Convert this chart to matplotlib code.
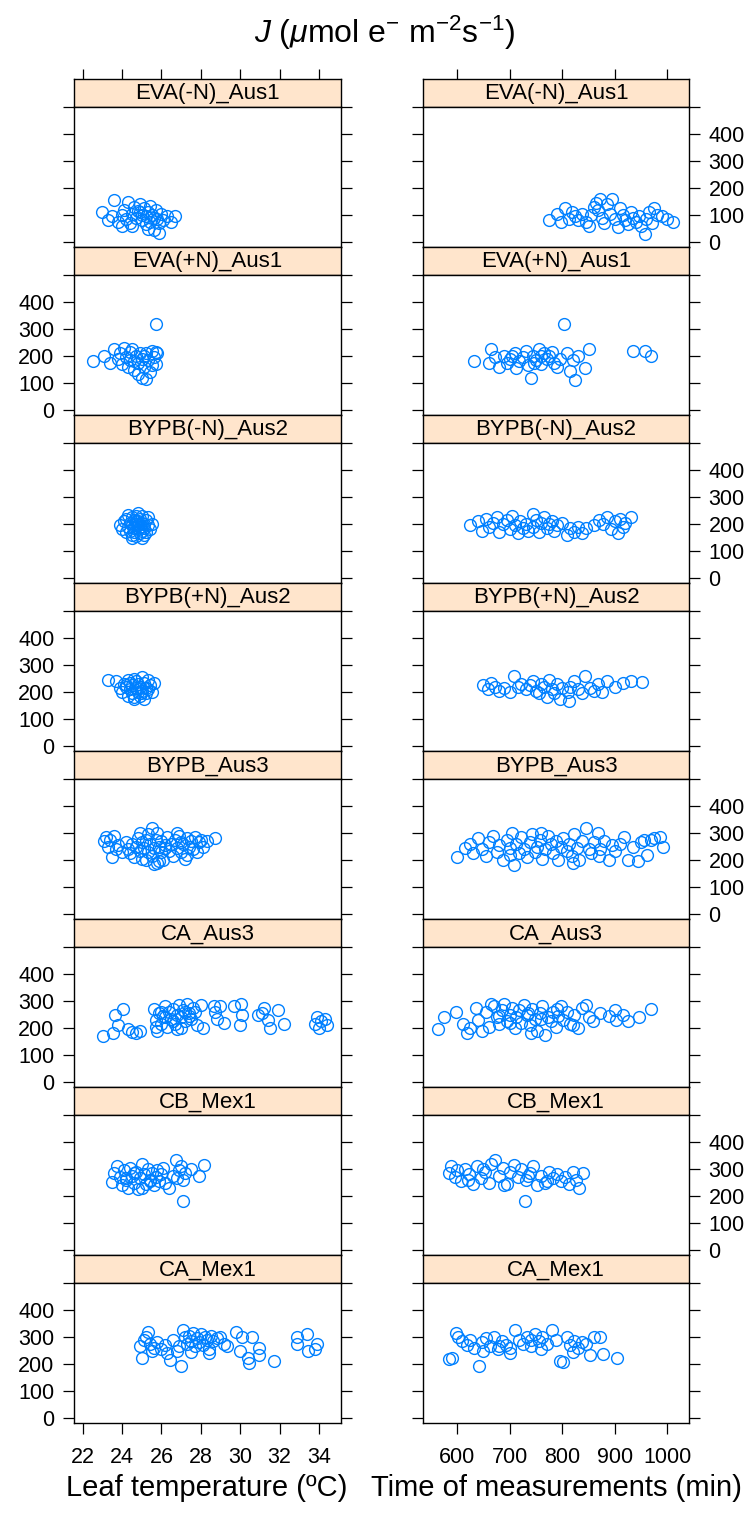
import matplotlib
matplotlib.use("Agg")
import matplotlib.pyplot as plt

plt.rcParams['font.family'] = ['Liberation Sans', 'DejaVu Sans']
plt.rcParams['mathtext.fontset'] = 'custom'
plt.rcParams['mathtext.rm'] = 'Liberation Sans'
plt.rcParams['mathtext.it'] = 'Liberation Sans:italic'

# panel names, top to bottom
groups = ['EVA(-N)_Aus1', 'EVA(+N)_Aus1', 'BYPB(-N)_Aus2', 'BYPB(+N)_Aus2',
          'BYPB_Aus3', 'CA_Aus3', 'CB_Mex1', 'CA_Mex1']

# leaf temperature (C) and J, left column
temp_0 = [23.0, 23.3, 23.5, 23.6, 23.8, 24.0, 24.1, 24.2, 24.3, 24.4, 24.5, 24.5, 24.6, 24.7, 24.8,
          24.9, 25.0, 25.0, 25.1, 25.2, 25.2, 25.3, 25.4, 25.4, 25.5, 25.6, 25.6, 25.7, 25.8, 25.9,
          26.0, 26.1, 25.9, 26.3, 26.5, 26.7, 24.0, 24.9, 25.3]
jt_0 = [110, 80, 95, 155, 75, 100, 120, 85, 150, 70, 105, 60, 130, 90, 115,
        140, 80, 100, 125, 65, 95, 110, 135, 75, 100, 45, 90, 120, 85, 70,
        105, 80, 35, 95, 75, 95, 60, 110, 50]
temp_1 = [22.5, 23.1, 23.4, 23.6, 23.8, 23.9, 24.0, 24.1, 24.2, 24.3, 24.4, 24.4, 24.5, 24.6, 24.7,
          24.8, 24.8, 24.9, 25.0, 25.0, 25.1, 25.2, 25.2, 25.3, 25.4, 25.5, 25.5, 25.6, 25.7, 25.7,
          25.8, 25.7, 24.6, 25.1]
jt_1 = [180, 200, 175, 225, 190, 210, 170, 230, 195, 160, 215, 185, 225, 150, 200,
        175, 135, 210, 120, 190, 160, 210, 115, 185, 140, 220, 165, 195, 170, 215,
        210, 318, 180, 200]
temp_2 = [23.9, 24.0, 24.1, 24.2, 24.2, 24.3, 24.3, 24.4, 24.4, 24.5, 24.5, 24.5, 24.6, 24.6, 24.6,
          24.7, 24.7, 24.7, 24.8, 24.8, 24.8, 24.9, 24.9, 24.9, 25.0, 25.0, 25.0, 25.1, 25.1, 25.1,
          25.2, 25.2, 25.3, 25.3, 25.4, 25.5, 24.5, 24.8, 25.0, 24.7]
jt_2 = [195, 180, 210, 170, 220, 190, 235, 175, 205, 160, 225, 195, 185, 215, 170,
        200, 230, 155, 180, 210, 195, 165, 220, 190, 205, 175, 230, 160, 200, 185,
        215, 170, 195, 225, 180, 200, 150, 240, 150, 210]
temp_3 = [23.3, 23.7, 23.9, 24.0, 24.1, 24.2, 24.3, 24.3, 24.4, 24.4, 24.5, 24.5, 24.6, 24.6, 24.7,
          24.7, 24.8, 24.8, 24.9, 24.9, 25.0, 25.0, 25.1, 25.1, 25.2, 25.2, 25.3, 25.3, 25.4, 25.5,
          25.6, 24.6, 24.95, 24.2]
jt_3 = [245, 240, 215, 200, 230, 220, 185, 245, 210, 235, 195, 225, 175, 250, 215,
        240, 200, 230, 185, 220, 255, 205, 175, 235, 215, 195, 245, 210, 225, 200,
        235, 180, 195, 225]
temp_4 = [23.1, 23.2, 23.3, 23.4, 23.5, 23.6, 23.7, 23.8, 24.0, 24.2, 24.3, 24.4, 24.5, 24.6, 24.7,
          24.8, 24.9, 25.0, 25.0, 25.1, 25.2, 25.3, 25.3, 25.4, 25.5, 25.5, 25.6, 25.7, 25.8, 25.8,
          25.9, 26.0, 26.0, 26.1, 26.2, 26.3, 26.4, 26.5, 26.6, 26.7, 26.8, 26.9, 27.0, 27.1, 27.2,
          27.3, 27.4, 27.5, 27.6, 27.7, 27.8, 27.9, 28.0, 28.1, 28.3, 28.7, 25.2, 25.6, 26.2, 26.8,
          27.3, 24.9, 25.9, 27.0]
jt_4 = [270, 285, 250, 275, 210, 290, 240, 255, 230, 265, 240, 225, 260, 210, 250,
        280, 235, 265, 205, 245, 275, 230, 295, 260, 320, 215, 245, 275, 190, 300,
        250, 230, 270, 200, 255, 285, 235, 260, 215, 275, 245, 290, 230, 260, 205,
        280, 250, 270, 240, 285, 230, 265, 275, 250, 270, 280, 200, 185, 245, 300,
        220, 300, 195, 265]
temp_5 = [23.05, 23.55, 23.65, 24.05, 23.8, 24.3, 24.5, 24.7, 24.9, 25.6, 25.7, 25.8, 25.9, 26.0, 26.1,
          26.2, 26.3, 26.4, 26.5, 26.6, 26.7, 26.8, 26.9, 27.0, 27.1, 27.2, 27.3, 27.4, 27.5, 27.6,
          27.7, 27.8, 28.0, 25.7, 26.2, 26.6, 27.0, 27.4, 26.0, 28.1, 28.65, 29.0, 28.7, 28.8, 29.2,
          29.7, 30.05, 30.1, 30.0, 30.9, 31.2, 31.4, 31.5, 31.1, 31.9, 32.2, 33.9, 34.1, 34.3, 34.4,
          34.0, 33.8, 26.8, 27.2]
jt_5 = [170, 181, 248, 270, 211, 195, 185, 180, 190, 270, 230, 190, 255, 215, 245,
        280, 205, 260, 235, 270, 215, 250, 285, 240, 265, 225, 290, 255, 235, 275,
        260, 210, 285, 205, 240, 225, 200, 245, 260, 200, 280, 280, 260, 235, 220,
        280, 290, 250, 210, 250, 275, 230, 200, 255, 266, 213, 240, 225, 235, 210,
        200, 215, 195, 260]
temp_6 = [23.5, 23.6, 23.75, 23.9, 24.0, 24.1, 24.2, 24.3, 24.4, 24.5, 24.6, 24.7, 24.8, 24.9, 25.0,
          25.1, 25.2, 25.3, 25.4, 25.5, 25.6, 25.7, 25.8, 25.9, 26.0, 26.2, 26.4, 26.6, 26.75, 26.9,
          27.0, 27.1, 27.2, 27.5, 27.9, 28.15, 24.2, 24.6, 25.0, 25.4, 26.1, 26.8, 27.1]
jt_6 = [252, 285, 311, 270, 240, 295, 260, 230, 305, 275, 250, 290, 225, 265, 320,
        280, 245, 300, 260, 285, 240, 270, 295, 255, 280, 250, 230, 275, 333, 295,
        310, 260, 285, 300, 275, 315, 265, 285, 230, 255, 305, 265, 181]
temp_7 = [25.0, 25.3, 24.9, 25.1, 25.4, 25.6, 25.2, 25.8, 26.0, 26.2, 26.45, 26.6, 26.8, 27.0, 27.1,
          27.2, 27.3, 27.4, 27.5, 27.6, 27.7, 27.8, 27.9, 28.0, 28.1, 28.2, 28.3, 28.4, 28.5, 28.6,
          28.8, 29.0, 29.2, 29.35, 29.8, 30.1, 30.6, 30.0, 30.4, 30.45, 30.95, 30.95, 31.7, 32.9, 32.9,
          33.4, 33.45, 33.9, 33.8, 26.3, 26.9, 27.5, 28.4, 25.5]
jt_7 = [222, 319, 265, 290, 275, 260, 300, 280, 255, 270, 215, 290, 250, 193, 326,
        300, 275, 305, 285, 315, 265, 295, 280, 310, 270, 300, 290, 255, 305, 285,
        295, 300, 275, 265, 320, 300, 300, 250, 222, 205, 259, 235, 210, 300, 273,
        310, 250, 275, 255, 240, 265, 245, 240, 250]

# time of measurement (min) and J, right column
time_0 = [775, 790, 798, 805, 812, 818, 825, 830, 838, 845, 850, 855, 860, 865, 868,
          872, 876, 880, 885, 890, 895, 900, 905, 910, 915, 920, 925, 930, 935, 940,
          945, 950, 957, 960, 965, 970, 975, 980, 990, 1000, 1010]
jm_0 = [80, 105, 75, 125, 85, 110, 95, 80, 105, 75, 60, 100, 130, 145, 120,
        160, 90, 70, 140, 105, 160, 85, 55, 125, 100, 80, 65, 110, 90, 75,
        95, 60, 30, 85, 110, 70, 125, 100, 95, 85, 75]
time_1 = [632, 660, 665, 672, 680, 690, 695, 700, 705, 710, 712, 718, 725, 730, 735,
          740, 745, 747, 750, 755, 760, 760, 765, 770, 775, 780, 785, 790, 795, 803,
          808, 815, 820, 825, 830, 843, 850, 935, 957, 969]
jm_1 = [180, 175, 225, 195, 160, 200, 175, 190, 200, 210, 155, 180, 195, 220, 165,
        120, 200, 175, 185, 225, 170, 200, 210, 190, 200, 215, 175, 160, 190, 318,
        210, 145, 185, 112, 200, 155, 225, 218, 220, 200]
time_2 = [625, 640, 648, 655, 660, 668, 675, 680, 688, 695, 700, 705, 710, 715, 720,
          725, 730, 735, 744, 745, 750, 755, 760, 765, 770, 775, 780, 785, 790, 800,
          808, 815, 822, 830, 838, 845, 860, 870, 878, 885, 893, 900, 905, 910, 915,
          920, 930]
jm_2 = [195, 210, 175, 220, 190, 205, 225, 170, 200, 215, 180, 230, 195, 165, 210,
        185, 200, 175, 237, 190, 215, 170, 205, 225, 185, 200, 210, 175, 195, 205,
        160, 185, 170, 190, 165, 185, 195, 215, 200, 225, 180, 210, 165, 220, 190,
        205, 225]
time_3 = [650, 658, 665, 672, 680, 690, 700, 708, 715, 722, 730, 738, 745, 750, 755,
          760, 765, 770, 775, 780, 785, 790, 795, 800, 812, 810, 815, 822, 830, 838,
          843, 852, 860, 868, 875, 885, 900, 915, 930, 952]
jm_3 = [225, 210, 235, 220, 205, 215, 200, 260, 220, 230, 210, 225, 240, 205, 195,
        230, 220, 180, 245, 210, 195, 230, 175, 215, 168, 200, 220, 240, 210, 195,
        260, 215, 205, 230, 200, 240, 220, 235, 240, 237]
time_4 = [600, 615, 625, 630, 640, 648, 655, 660, 668, 675, 680, 688, 695, 700, 705,
          708, 712, 718, 722, 728, 732, 738, 742, 748, 752, 758, 762, 768, 772, 778,
          782, 788, 792, 798, 802, 808, 812, 818, 822, 828, 832, 838, 845, 850, 855,
          860, 868, 872, 880, 888, 895, 900, 910, 918, 925, 935, 944, 950, 955, 961,
          968, 975, 985, 992, 700, 760, 820, 870]
jm_4 = [210, 245, 260, 225, 280, 240, 215, 265, 290, 230, 255, 200, 275, 245, 300,
        180, 260, 225, 285, 240, 210, 265, 295, 230, 250, 275, 205, 240, 290, 260,
        225, 270, 200, 250, 280, 235, 260, 215, 295, 245, 200, 270, 318, 240, 225,
        265, 300, 240, 270, 200, 255, 235, 260, 285, 200, 250, 195, 265, 275, 220,
        275, 280, 285, 250, 220, 300, 190, 215]
time_5 = [563, 575, 597, 611, 618, 624, 647, 636, 665, 640, 655, 660, 670, 675, 680,
          685, 690, 695, 700, 705, 710, 712, 718, 722, 728, 732, 738, 742, 748, 752,
          758, 762, 768, 772, 778, 782, 788, 792, 798, 802, 808, 815, 822, 830, 838,
          845, 850, 858, 872, 888, 900, 903, 915, 925, 945, 968, 700, 740, 760, 790,
          820, 680, 735]
jm_5 = [196, 241, 259, 215, 180, 200, 190, 275, 290, 230, 260, 205, 280, 240, 215,
        265, 290, 225, 250, 275, 200, 240, 265, 220, 285, 250, 210, 270, 235, 190,
        255, 280, 175, 240, 225, 260, 205, 245, 280, 230, 260, 215, 250, 200, 275,
        285, 240, 225, 255, 245, 265, 231, 250, 225, 240, 270, 220, 180, 235, 270,
        210, 245, 255]
time_6 = [584, 588, 595, 600, 608, 615, 622, 630, 638, 645, 652, 660, 665, 672, 680,
          688, 695, 700, 708, 715, 722, 730, 738, 745, 752, 760, 768, 775, 782, 790,
          798, 805, 812, 820, 826, 832, 840, 620, 650, 690, 735, 770, 729]
jm_6 = [285, 311, 270, 295, 255, 300, 280, 245, 310, 265, 290, 250, 320, 333, 275,
        305, 245, 290, 315, 270, 300, 260, 285, 310, 240, 275, 250, 290, 265, 280,
        255, 270, 245, 290, 260, 230, 285, 260, 300, 240, 275, 255, 181]
time_7 = [585, 590, 597, 601, 610, 618, 625, 632, 641, 648, 655, 662, 670, 678, 685,
          692, 700, 710, 718, 725, 732, 740, 748, 755, 762, 770, 780, 788, 795, 801,
          808, 815, 822, 830, 838, 845, 853, 860, 872, 878, 904, 650, 700, 760, 820,
          680, 740]
jm_7 = [218, 222, 315, 300, 285, 270, 290, 260, 193, 280, 295, 265, 300, 255, 285,
        270, 260, 326, 290, 275, 300, 265, 310, 285, 300, 275, 326, 290, 212, 208,
        300, 270, 285, 260, 280, 275, 235, 300, 300, 238, 222, 250, 240, 255, 245,
        265, 290]

left_x = [temp_0, temp_1, temp_2, temp_3, temp_4, temp_5, temp_6, temp_7]
left_y = [jt_0, jt_1, jt_2, jt_3, jt_4, jt_5, jt_6, jt_7]
right_x = [time_0, time_1, time_2, time_3, time_4, time_5, time_6, time_7]
right_y = [jm_0, jm_1, jm_2, jm_3, jm_4, jm_5, jm_6, jm_7]

y_ticks = [0, 100, 200, 300, 400, 500]
y_labels = ['0', '100', '200', '300', '400', '']
temp_ticks = [22, 24, 26, 28, 30, 32, 34]
time_ticks = [600, 700, 800, 900, 1000]

W, H = 754, 1514
fig = plt.figure(figsize=(W / 100, H / 100), dpi=100)


def box(x0, y0, w, h):
    # pixel box measured from the top-left corner
    return [x0 / W, 1 - (y0 + h) / H, w / W, h / H]


cols = [dict(x0=74, w=267, xs=left_x, ys=left_y, lim=(21.56, 35.12), ticks=temp_ticks),
        dict(x0=423, w=266, xs=right_x, ys=right_y, lim=(535, 1041), ticks=time_ticks)]
blue = '#0080ff'
strip_col = '#ffe5cc'

for c, col in enumerate(cols):
    for r in range(8):
        top = 79 + 168 * r
        st = fig.add_axes(box(col['x0'], top, col['w'], 28))
        st.set_facecolor(strip_col)
        st.set_xlim(col['lim'])
        st.set_yticks([])
        st.text(0.5, 0.47, groups[r], transform=st.transAxes, ha='center', va='center', fontsize=16)
        if r == 0:
            st.set_xticks(col['ticks'])
            st.tick_params(axis='x', bottom=False, top=True, labelbottom=False, labeltop=False,
                           direction='out', length=7, width=0.9)
        else:
            st.set_xticks([])
        for s in st.spines.values():
            s.set_linewidth(1.0)

        ax = fig.add_axes(box(col['x0'], top + 28, col['w'], 140))
        ax.plot(col['xs'][r], col['ys'][r], 'o', mfc='none', mec=blue, ms=8.5, mew=1.0)
        ax.set_xlim(col['lim'])
        ax.set_ylim(-18.5, 500)
        ax.set_yticks(y_ticks)
        ax.set_yticklabels(y_labels)
        if c == 0:
            lab_l, lab_r = (r % 2 == 1), False
        else:
            lab_l, lab_r = False, (r % 2 == 0)
        ax.tick_params(axis='y', left=True, right=True, labelleft=lab_l, labelright=lab_r,
                       direction='out', length=8, width=0.9, labelsize=15.5, pad=6)
        ax.set_xticks(col['ticks'])
        if r == 7:
            ax.tick_params(axis='x', bottom=True, top=False, labelbottom=True,
                           direction='out', length=8, width=0.9, labelsize=15.5, pad=9)
        else:
            ax.tick_params(axis='x', bottom=False, top=False, labelbottom=False)
        for s in ax.spines.values():
            s.set_linewidth(1.0)

fig.text(385 / W, 1 - 33 / H, r'$J$ ($\mu$mol e$^{-}$ m$^{-2}$s$^{-1}$)',
         ha='center', va='center', fontsize=23)
fig.text(207 / W, 1 - 1488 / H, 'Leaf temperature (ºC)', ha='center', va='center', fontsize=21)
fig.text(556 / W, 1 - 1488 / H, 'Time of measurements (min)', ha='center', va='center', fontsize=21)

fig.savefig('out.png', dpi=100)
